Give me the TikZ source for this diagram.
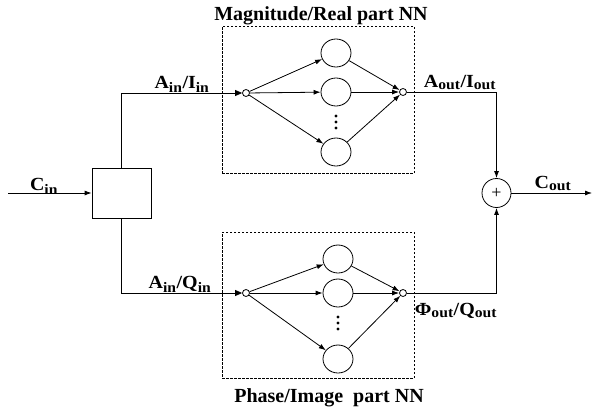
\documentclass[tikz,border=0pt]{standalone}
\usepackage{fontspec}
\setmainfont{Liberation Serif}
\newfontfamily\lblfont[FakeStretch=1.08]{Liberation Serif}
\usetikzlibrary{arrows.meta,shapes.geometric}
\newcommand\sbs[1]{\textsubscript{\fontsize{14.5}{14.5}\selectfont\bfseries #1}}
\begin{document}
\begin{tikzpicture}[x=1pt,y=-1pt,
  line width=0.8pt,
  lbl/.style={font=\lblfont\fontsize{18.5}{18.5}\selectfont\bfseries, inner sep=0pt},
  ttl/.style={font=\fontsize{20}{20}\selectfont\bfseries, inner sep=0pt},
  hid/.style={draw, ellipse, minimum width=30pt, minimum height=28pt, inner sep=0pt},
  io/.style={draw, circle, minimum size=7pt, inner sep=0pt, fill=white},
  nnbox/.style={draw, dashed, line width=0.6pt, dash pattern=on 2.5pt off 1.5pt},
  arr/.style={-{Latex[length=7pt,width=5pt]}},
  inarr/.style={-{Triangle[length=7pt,width=6pt]}}
]
\useasboundingbox (0,0) rectangle (593,407);
% splitter box
\node[draw, minimum width=59pt, minimum height=50pt, inner sep=0pt] (split) at (121.5,193) {};
\coordinate (cinstart) at (8,193);
\draw[arr] (cinstart) -- (split.west);
\node[lbl, anchor=base] (cin) at (44,190) {C\sbs{in}};
% dashed boxes
\node[nnbox, minimum width=192pt, minimum height=147pt, inner sep=0pt] (box1) at (318,99.5) {};
\node[nnbox, minimum width=192pt, minimum height=146pt, inner sep=0pt] (box2) at (318,305) {};
\node[ttl, anchor=base] (t1) at (321,20) {Magnitude/Real part NN};
\node[ttl, anchor=base] (t2) at (329,402) {Phase/Image\ \ part NN};
% upper NN
\node[io] (in1) at (246,93) {};
\node[io] (out1) at (403,92) {};
\node[hid] (h11) at (336,53) {};
\node[hid] (h12) at (336,92) {};
\node[hid] (h13) at (336,152) {};
\foreach \yy in {116,122,128} \fill (336,\yy) circle (1.6pt);
% lower NN
\node[io] (in2) at (246,293) {};
\node[io] (out2) at (403,293) {};
\node[hid] (h21) at (338,259) {};
\node[hid] (h22) at (338,293) {};
\node[hid] (h23) at (338,359) {};
\foreach \yy in {317,323,329} \fill (338,\yy) circle (1.6pt);
\foreach \b in {1,2}{
  \foreach \h in {1,2,3}{
    \draw[arr] (in\b) -- (h\b\h);
    \draw[arr] (h\b\h) -- (out\b);
  }
}
% input routes
\coordinate (c1) at (121.5,93);
\coordinate (c2) at (121.5,293);
\draw[inarr] (split.north) -- (c1) -- (in1);
\draw[inarr] (split.south) -- (c2) -- (in2);
\node[lbl, anchor=base] (ain) at (182,88) {A\sbs{in}/I\sbs{in}};
\node[lbl, anchor=base] (aq) at (180,288) {A\sbs{in}/Q\sbs{in}};
% sum
\node[draw, circle, minimum size=29pt, inner sep=0pt, font=\fontsize{18}{18}\selectfont] (sum) at (496.5,193) {+};
\coordinate (d1) at (496.5,92);
\coordinate (d2) at (496.5,293);
\draw[arr] (out1) -- (d1) -- (sum);
\draw[arr] (out2) -- (d2) -- (sum);
\node[lbl, anchor=base] (aout) at (460,87) {A\sbs{out}/I\sbs{out}};
\node[lbl, anchor=base] (pout) at (456,315) {Φ\sbs{out}/Q\sbs{out}};
\coordinate (cend) at (592,193);
\draw[arr] (sum) -- (cend);
\node[lbl, anchor=base] (cout) at (553,188) {C\sbs{out}};
\end{tikzpicture}
\end{document}
